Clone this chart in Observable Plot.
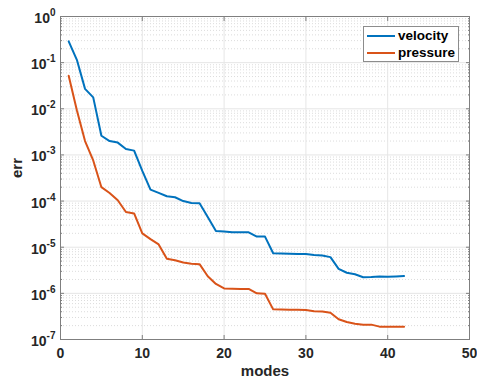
<!DOCTYPE html>
<html><head><meta charset="utf-8">
<script src="https://cdn.jsdelivr.net/npm/d3@7"></script>
<script src="https://cdn.jsdelivr.net/npm/@observablehq/plot@0.6"></script>
<style>
body{margin:0;background:#fff;}
#wrap{position:relative;width:477px;height:383px;font-family:"Liberation Sans",Arial,Helvetica,sans-serif;}
#legend{position:absolute;left:363px;top:26px;width:96px;height:36px;border:1px solid #8c8c8c;background:#fff;box-sizing:border-box;font-weight:bold;font-size:13.5px;color:#000;}
#legend .row{position:absolute;left:0;height:16px;line-height:16px;}
#legend .sw{position:absolute;left:3px;width:28px;height:0;border-top:2px solid;}
#legend .lab{position:absolute;left:34px;top:0;white-space:nowrap;}
</style>
</head><body>
<div id="wrap"><div id="legend"></div></div>
<script>
const modes = [1,2,3,4,5,6,7,8,9,10,11,12,13,14,15,16,17,18,19,20,21,22,23,24,25,26,27,28,29,30,31,32,33,34,35,36,37,38,39,40,41,42];
const velocity = [0.29, 0.115, 0.027, 0.0177, 0.0026, 0.0020, 0.00185, 0.00134, 0.00124, 0.00045, 0.000177, 0.000151, 0.000127, 0.000121, 0.000100, 0.000091, 0.000090, 4.5e-5, 2.25e-5, 2.2e-5, 2.1e-5, 2.1e-5, 2.1e-5, 1.7e-5, 1.7e-5, 7.4e-6, 7.3e-6, 7.2e-6, 7.1e-6, 7.1e-6, 6.8e-6, 6.6e-6, 6.1e-6, 3.4e-6, 2.8e-6, 2.6e-6, 2.24e-6, 2.25e-6, 2.33e-6, 2.3e-6, 2.33e-6, 2.37e-6];
const pressure = [0.052, 0.0093, 0.0020, 0.00076, 0.0002, 0.00015, 0.000104, 5.8e-5, 5.4e-5, 2.0e-5, 1.5e-5, 1.15e-5, 5.6e-6, 5.2e-6, 4.65e-6, 4.4e-6, 4.3e-6, 2.35e-6, 1.6e-6, 1.28e-6, 1.26e-6, 1.25e-6, 1.25e-6, 1.0e-6, 9.8e-7, 4.5e-7, 4.45e-7, 4.4e-7, 4.4e-7, 4.35e-7, 4.1e-7, 4.05e-7, 3.8e-7, 2.75e-7, 2.4e-7, 2.2e-7, 2.1e-7, 2.1e-7, 1.9e-7, 1.9e-7, 1.9e-7, 1.9e-7];
const xTicks = [0,10,20,30,40,50];
const xGridTicks = [10,20,30,40];
const yTicks = [1e-7,1e-6,1e-5,1e-4,1e-3,1e-2,1e-1,1];
const yTickExponents = ["-7","-6","-5","-4","-3","-2","-1","0"];
const minorMultipliers = [2,3,4,5,6,7,8,9];
const seriesNames = ["velocity","pressure"];
const seriesColors = ["#0072BD","#D95319"];
const xLabel = "modes";
const yLabel = "err";

const yMinor = yTicks.slice(0,-1).flatMap(t => minorMultipliers.map(m => m*t));
const rows = modes.flatMap((m,i)=>[
  {mode:m, err:velocity[i], series:seriesNames[0]},
  {mode:m, err:pressure[i], series:seriesNames[1]}
]);
const axisGray = "#7f7f7f";
const textCol = "#262626";
const lab = {fontSize:14, fontWeight:"bold", fill:textCol, label:null};

const chart = Plot.plot({
  width:477, height:383,
  marginLeft:60, marginRight:8, marginTop:16, marginBottom:44,
  style:{fontFamily:'"Liberation Sans", Arial, Helvetica, sans-serif', background:"transparent"},
  x:{domain:[0,50], label:null},
  y:{type:"log", domain:[1e-7,1], label:null},
  color:{domain:seriesNames, range:seriesColors},
  marks:[
    Plot.gridY(yMinor, {stroke:"#dcdcdc", strokeOpacity:1, strokeDasharray:"1,2"}),
    Plot.gridY(yTicks, {stroke:"#e6e6e6", strokeOpacity:1}),
    Plot.gridX(xGridTicks, {stroke:"#e6e6e6", strokeOpacity:1}),
    Plot.line(rows, {x:"mode", y:"err", z:"series", stroke:"series", strokeWidth:2}),
    Plot.frame({stroke:axisGray}),
    Plot.axisY({anchor:"left", ticks:yTicks, tickSize:-4, fill:"none", stroke:axisGray, label:null}),
    Plot.axisY({anchor:"right", ticks:yTicks, tickSize:-4, fill:"none", stroke:axisGray, label:null}),
    Plot.axisY({anchor:"left", ticks:yMinor, tickSize:-2, fill:"none", stroke:axisGray, label:null}),
    Plot.axisY({anchor:"right", ticks:yMinor, tickSize:-2, fill:"none", stroke:axisGray, label:null}),
    Plot.axisX({anchor:"bottom", ticks:xTicks, tickSize:-4, fill:"none", stroke:axisGray, label:null}),
    Plot.axisX({anchor:"top", ticks:xTicks, tickSize:-4, fill:"none", stroke:axisGray, label:null}),
    Plot.axisY({anchor:"left", ticks:yTicks, tickSize:0, tickPadding:5, dy:2,
      tickFormat:(d)=>"10^"+yTickExponents[yTicks.indexOf(d)], ...lab}),
    Plot.axisX({anchor:"bottom", ticks:xTicks, tickSize:0, tickPadding:9, tickFormat:d=>String(d), ...lab}),
    Plot.text([xLabel], {text:d=>d, frameAnchor:"bottom", dy:32, lineAnchor:"middle", fontSize:15, fontWeight:"bold", fill:textCol}),
    Plot.text([yLabel], {text:d=>d, frameAnchor:"left", dx:-43, rotate:-90, lineAnchor:"middle", fontSize:15, fontWeight:"bold", fill:textCol})
  ]
});

d3.select(chart).selectAll('g[aria-label="y-axis tick label"] text').each(function(){
  const s = this.textContent;
  if (s.indexOf("^") < 0) return;
  const [b,e] = s.split("^");
  const t = d3.select(this);
  t.text(null);
  t.append("tspan").text(b);
  t.append("tspan").attr("dy", -7).attr("font-size", 10).text(e);
});

const wrap = document.getElementById("wrap");
wrap.insertBefore(chart, wrap.firstChild);
const legend = d3.select("#legend");
seriesNames.forEach((n,i)=>{
  const row = legend.append("div").attr("class","row").style("top", (i===0? 0.5 : 17.5)+"px").style("width","94px");
  row.append("div").attr("class","sw").style("top","7px").style("border-color", seriesColors[i]);
  row.append("div").attr("class","lab").text(n);
});
</script>
</body></html>
